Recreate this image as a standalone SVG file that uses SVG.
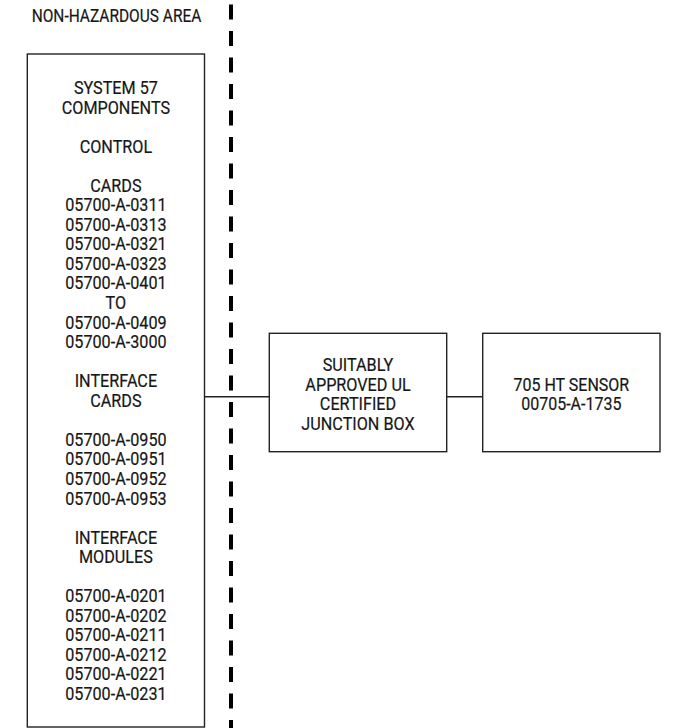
<svg xmlns="http://www.w3.org/2000/svg" width="674" height="728" viewBox="0 0 674 728">
<style>
.box{fill:#fff;stroke:#222;stroke-width:1.4}
.wire{fill:none;stroke:#222;stroke-width:1.4}
.t{font-family:Roboto,"Liberation Sans",sans-serif;font-size:19px;fill:#161616;stroke:#161616;stroke-width:0.2;text-anchor:middle}
</style>
<rect width="674" height="728" fill="#fff"/>
<g id="boundary">
<line x1="231" y1="4.5" x2="231" y2="728" stroke="#000" stroke-width="4" stroke-dasharray="15 11.5"/>
<g transform="translate(116.5,0) scale(0.815,1)"><text class="t" x="0" y="22">NON-HAZARDOUS AREA</text></g>
</g>
<g id="connectors">
<line class="wire" x1="204.5" y1="396.7" x2="269.3" y2="396.7"/>
<line class="wire" x1="446.7" y1="396.7" x2="482.7" y2="396.7"/>
</g>
<g id="system57">
<rect class="box" x="27.3" y="54" width="177.2" height="673"/>
<g transform="translate(115.9,0) scale(0.853,1)">
<text class="t" x="0" y="94">SYSTEM 57</text>
<text class="t" x="0" y="113.55">COMPONENTS</text>
<text class="t" x="0" y="152.65">CONTROL</text>
<text class="t" x="0" y="191.75">CARDS</text>
<text class="t" x="0" y="211.3">05700-A-0311</text>
<text class="t" x="0" y="230.85">05700-A-0313</text>
<text class="t" x="0" y="250.4">05700-A-0321</text>
<text class="t" x="0" y="269.95">05700-A-0323</text>
<text class="t" x="0" y="289.5">05700-A-0401</text>
<text class="t" x="0" y="309.05">TO</text>
<text class="t" x="0" y="328.6">05700-A-0409</text>
<text class="t" x="0" y="348.15">05700-A-3000</text>
<text class="t" x="0" y="387.25">INTERFACE</text>
<text class="t" x="0" y="406.8">CARDS</text>
<text class="t" x="0" y="445.9">05700-A-0950</text>
<text class="t" x="0" y="465.45">05700-A-0951</text>
<text class="t" x="0" y="485">05700-A-0952</text>
<text class="t" x="0" y="504.55">05700-A-0953</text>
<text class="t" x="0" y="543.65">INTERFACE</text>
<text class="t" x="0" y="563.2">MODULES</text>
<text class="t" x="0" y="602.3">05700-A-0201</text>
<text class="t" x="0" y="621.85">05700-A-0202</text>
<text class="t" x="0" y="641.4">05700-A-0211</text>
<text class="t" x="0" y="660.95">05700-A-0212</text>
<text class="t" x="0" y="680.5">05700-A-0221</text>
<text class="t" x="0" y="700.05">05700-A-0231</text>
</g>
</g>
<g id="junction">
<rect class="box" x="269.3" y="333.3" width="177.4" height="118.4"/>
<g transform="translate(358,0) scale(0.853,1)">
<text class="t" x="0" y="371.5">SUITABLY</text>
<text class="t" x="0" y="391">APPROVED UL</text>
<text class="t" x="0" y="410.5">CERTIFIED</text>
<text class="t" x="0" y="430">JUNCTION BOX</text>
</g>
</g>
<g id="sensor">
<rect class="box" x="482.7" y="333.3" width="177.3" height="118.4"/>
<g transform="translate(571.3,0) scale(0.843,1)">
<text class="t" x="0" y="391">705 HT SENSOR</text>
<text class="t" x="0" y="410.5">00705-A-1735</text>
</g>
</g>
</svg>
